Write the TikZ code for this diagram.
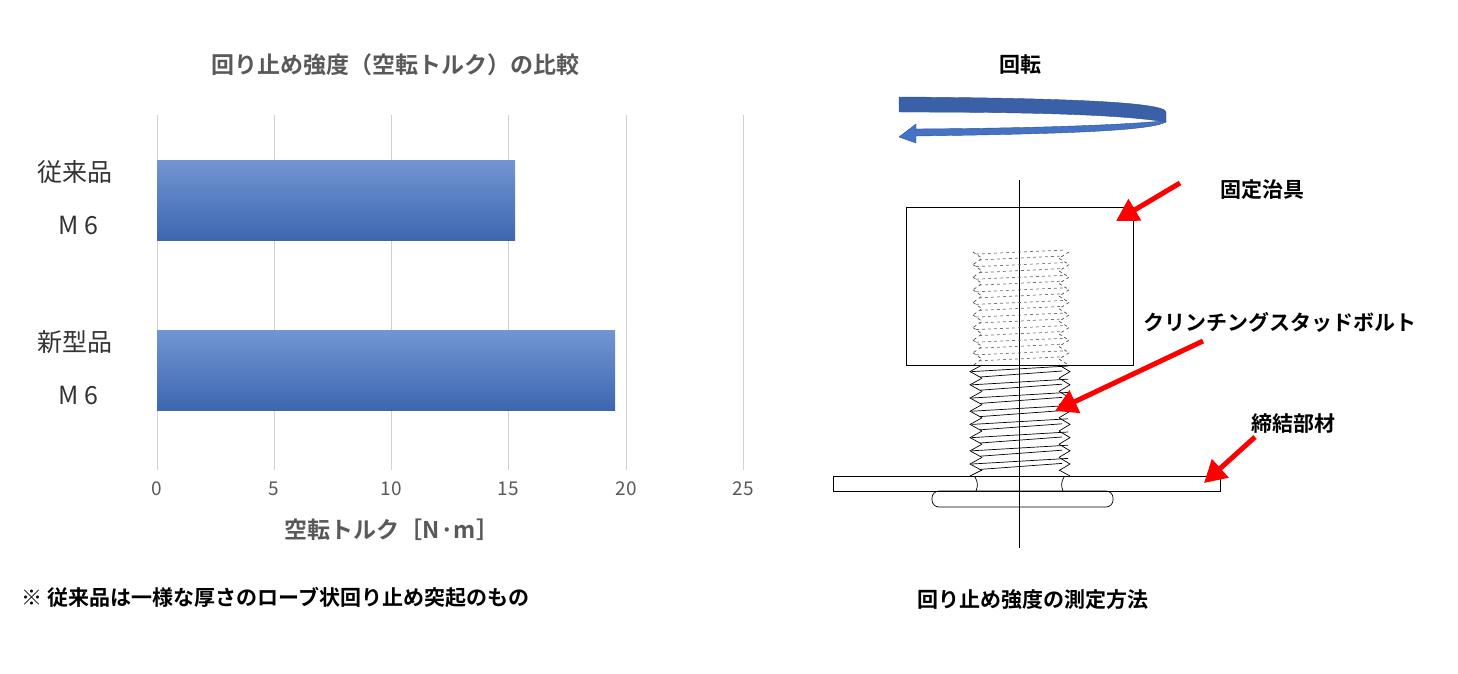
\documentclass[tikz,border=0pt]{standalone}
\usepackage{fontspec}
\newfontfamily\jp{Noto Sans CJK JP}
\newfontfamily\jpb{Noto Sans CJK JP Bold}
\usetikzlibrary{arrows.meta}
\definecolor{barblue}{HTML}{4472C4}
\definecolor{grayt}{HTML}{595959}
\tikzset{
 grid/.style={draw=black!18,line width=1pt},
 bar/.style={top color=barblue!75!white,bottom color=barblue!90!black,draw=none},
 tick/.style={font=\jp\fontsize{19}{20}\selectfont,text=grayt},
 cat/.style={font=\jp\fontsize{25}{28}\selectfont,text=black!80},
 lab/.style={font=\jpb\fontsize{21}{24}\selectfont},
 redarr/.style={draw=red,line width=5pt,-{Triangle[length=22pt,width=24pt]}},
 thin/.style={line width=0.7pt},
}
\begin{document}
\begin{tikzpicture}[x=1pt,y=-1pt]
\path[use as bounding box] (0,0) rectangle (1458,674);
% chart
\node[font=\jpb\fontsize{23}{26}\selectfont,text=grayt] (title) at (395,65) {回り止め強度（空転トルク）の比較};
\foreach \i/\x in {0/157,5/274,10/391,15/508,20/626,25/743}{
  \draw[grid] (\x,115) -- (\x,470);
  \node[tick] (t\i) at (\x,489) {\i};
}
\path[bar] (157,160) rectangle (515,240);
\path[bar] (157,330) rectangle (615,410);
\node[cat] (c1) at (75,172) {従来品};
\node[cat] (c1m) at (78,225) {M 6};
\node[cat] (c2) at (75,342) {新型品};
\node[cat] (c2m) at (78,395) {M 6};
\node[font=\jpb\fontsize{23}{26}\selectfont,text=grayt] (axt) at (392,530) {空転トルク［N·m］};
\node[lab,anchor=west] (note) at (18,597) {※ 従来品は一様な厚さのローブ状回り止め突起のもの};
\node[lab] (cap) at (1033,600) {回り止め強度の測定方法};
% rotation arrow
\fill[barblue!85!black,draw=barblue!70!black] (899,97) .. controls (1060,98) and (1165,102) .. (1166,112) -- (1166,122) .. controls (1130,116) and (1060,112) .. (899,112) -- cycle;
\fill[barblue,draw=barblue!70!black] (1166,122) .. controls (1150,131) and (1060,134) .. (916,136) -- (916,143) -- (899,137) -- (916,124) -- (916,129) .. controls (1060,128) and (1130,124) .. (1163,121) -- cycle;
\node[lab] (rot) at (1020,65) {回転};
% jig
\node[draw,thin,minimum width=227,minimum height=158,inner sep=0] (jig) at (1019.5,286) {};
\coordinate (cl1) at (1019,180); \coordinate (cl2) at (1019,548);
\draw[line width=0.6pt] (cl1) -- (cl2);
% threads dashed
\foreach \k in {0,...,8}{
  \pgfmathsetmacro{\y}{252+\k*12.6}
  \draw[thin,dashed,black!70] (973,\y) -- (982,\y+6.3) -- (973,\y+12.6);
  \draw[thin,dashed,black!70] (1069,\y) -- (1059,\y+6.3) -- (1069,\y+12.6);
  \draw[thin,dashed,black!55] (976,\y+2) -- (1066,\y-2);
  \draw[thin,dashed,black!55] (979,\y+8) -- (1062,\y+4);
}
% threads solid
\foreach \k in {0,...,7}{
  \pgfmathsetmacro{\y}{365+\k*13.2}
  \draw[thin] (982,\y) -- (970,\y+6.6) -- (982,\y+13.2);
  \draw[thin] (1059,\y) -- (1070,\y+6.6) -- (1059,\y+13.2);
  \draw[thin] (972,\y+6.6) -- (1068,\y+1);
  \draw[thin] (980,\y+12) -- (1062,\y+6);
}
\draw[thin] (982,470) -- (970,476); \draw[thin] (1059,470) -- (1070,476);
% plate
\node[draw,thin,minimum width=387,minimum height=15,inner sep=0] (plate) at (1026.5,483.5) {};
\draw[thin,rounded corners=7] (932,491) rectangle (1113,507);
\draw[thin] (975,477) .. controls (978,482) and (978,486) .. (976,491);
\draw[thin] (1064,477) .. controls (1061,482) and (1061,486) .. (1063,491);
% labels
\node[lab] (l1) at (1262,190) {固定治具};
\node[lab] (l2) at (1280,322) {クリンチングスタッドボルト};
\node[lab] (l3) at (1293,424) {締結部材};
\coordinate (a1s) at (1180,183); \coordinate (a1e) at (1116,221);
\coordinate (a2s) at (1203,341); \coordinate (a2e) at (1055,411);
\coordinate (a3s) at (1255,437); \coordinate (a3e) at (1204,483);
\draw[redarr] (a1s) -- (a1e);
\draw[redarr] (a2s) -- (a2e);
\draw[redarr] (a3s) -- (a3e);
\end{tikzpicture}
\end{document}
